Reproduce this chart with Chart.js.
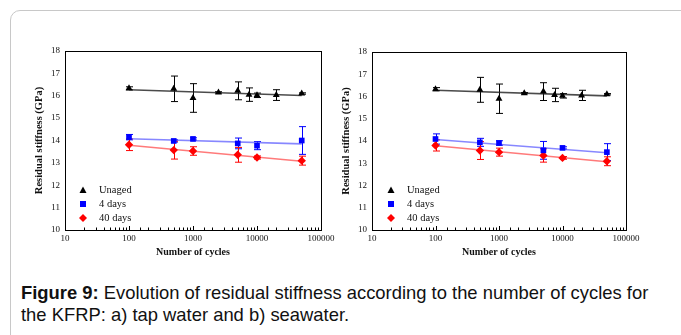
<!DOCTYPE html>
<html>
<head>
<meta charset="utf-8">
<script src="https://cdn.jsdelivr.net/npm/chart.js@4/dist/chart.umd.min.js"></script>
<style>
html, body { margin: 0; padding: 0; background: #fff; width: 681px; height: 335px; overflow: hidden; }
#frame { position: absolute; left: 10px; top: 10px; width: 700px; height: 400px; border: 1px solid #c8c8c8; border-radius: 10px; }
canvas { position: absolute; }
#c1 { left: 20px; top: 40px; }
#c2 { left: 330px; top: 40px; }
#caption { position: absolute; left: 21px; top: 282px; font-family: "Liberation Sans", Arial, sans-serif; font-size: 18.4px; line-height: 22px; color: #111; white-space: nowrap; }
</style>
</head>
<body>
<div id="frame"></div>
<canvas id="c1" width="320" height="225"></canvas>
<canvas id="c2" width="320" height="225"></canvas>
<div id="caption"><b>Figure 9:</b> Evolution of residual stiffness according to the number of cycles for<br>the KFRP: a) tap water and b) seawater.</div>
<script>
const seriesNames = ['Unaged', '4 days', '40 days'];
const unagedCycles = [100, 500, 1000, 2500, 5000, 7500, 10000, 20000, 50000];
const agedCycles = [100, 500, 1000, 5000, 10000, 50000];
const trendCycles = [100, 50000];

// a) tap water
const tapUnaged = [16.33, 16.31, 15.9, 16.15, 16.22, 16.05, 16.02, 16.03, 16.1];
const tapUnagedErr = [0.07, 0.57, 0.64, 0.03, 0.4, 0.3, 0.1, 0.24, 0.03];
const tap4Days = [14.15, 13.98, 14.07, 13.87, 13.77, 14.0];
const tap4DaysErr = [0.12, 0.05, 0.05, 0.24, 0.18, 0.62];
const tap40Days = [13.81, 13.57, 13.53, 13.36, 13.24, 13.1];
const tap40DaysErr = [0.26, 0.4, 0.19, 0.33, 0.07, 0.2];
const tapTrendUnaged = [16.27, 16.01];
const tapTrend4Days = [14.08, 13.85];
const tapTrend40Days = [13.79, 13.07];

// b) seawater
const seaUnaged = [16.33, 16.3, 15.9, 16.15, 16.22, 16.07, 16.03, 16.05, 16.1];
const seaUnagedErr = [0.07, 0.56, 0.66, 0.03, 0.4, 0.3, 0.1, 0.23, 0.03];
const sea4Days = [14.09, 13.94, 13.91, 13.58, 13.69, 13.5];
const sea4DaysErr = [0.23, 0.18, 0.1, 0.4, 0.05, 0.38];
const sea40Days = [13.8, 13.57, 13.5, 13.35, 13.24, 13.09];
const sea40DaysErr = [0.25, 0.4, 0.18, 0.3, 0.06, 0.2];
const seaTrendUnaged = [16.28, 16.03];
const seaTrend4Days = [14.07, 13.47];
const seaTrend40Days = [13.79, 13.07];

const colors = ['#000000', '#0000ff', '#ff0000'];
const trendColors = ['rgba(30,30,30,0.8)', 'rgba(70,70,255,0.65)', 'rgba(255,50,50,0.65)'];
const shapes = ['triangle', 'rect', 'rectRot'];
const serif = '"Liberation Serif", "Times New Roman", serif';

function pts(xs, ys) {
    return xs.map((x, i) => ({ x: x, y: ys[i] }));
}

// vertical error bars with caps, drawn under the markers
const errorBars = {
    id: 'errorBars',
    beforeDatasetsDraw(chart) {
        const ctx = chart.ctx;
        const x = chart.scales.x, y = chart.scales.y;
        ctx.save();
        chart.data.datasets.forEach(ds => {
            if (!ds.errors) return;
            ctx.strokeStyle = ds.borderColor;
            ctx.lineWidth = 1;
            ds.data.forEach((p, i) => {
                const px = Math.round(x.getPixelForValue(p.x)) + 0.5;
                const y1 = y.getPixelForValue(p.y + ds.errors[i]);
                const y2 = y.getPixelForValue(p.y - ds.errors[i]);
                ctx.beginPath();
                ctx.moveTo(px, y1); ctx.lineTo(px, y2);
                ctx.moveTo(px - 3.5, y1); ctx.lineTo(px + 3.5, y1);
                ctx.moveTo(px - 3.5, y2); ctx.lineTo(px + 3.5, y2);
                ctx.stroke();
            });
        });
        ctx.restore();
    }
};

// plot frame, inward tick marks and the legend box
const frameAndLegend = {
    id: 'frameAndLegend',
    afterDraw(chart) {
        const ctx = chart.ctx;
        const a = chart.chartArea;
        const xs = chart.scales.x;
        ctx.save();
        ctx.strokeStyle = '#000';
        ctx.lineWidth = 1;
        ctx.strokeRect(Math.round(a.left) + 0.5, Math.round(a.top) + 0.5,
            Math.round(a.right - a.left), Math.round(a.bottom - a.top));
        ctx.beginPath();
        xs.ticks.forEach(t => {
            const px = Math.round(xs.getPixelForValue(t.value)) + 0.5;
            const major = Number.isInteger(Math.log10(t.value));
            ctx.moveTo(px, a.bottom);
            ctx.lineTo(px, a.bottom - (major ? 4 : 2.5));
        });
        ctx.stroke();

        const lx = a.left + chart.options.legendOffset;
        ctx.font = '10.5px ' + serif;
        ctx.textBaseline = 'middle';
        seriesNames.forEach((name, i) => {
            const ly = a.bottom - 40 + i * 14;
            ctx.fillStyle = colors[i];
            ctx.beginPath();
            if (i === 0) {
                ctx.moveTo(lx, ly - 3.5); ctx.lineTo(lx + 3.5, ly + 3); ctx.lineTo(lx - 3.5, ly + 3);
            } else if (i === 1) {
                ctx.rect(lx - 3, ly - 3, 6, 6);
            } else {
                ctx.moveTo(lx, ly - 4); ctx.lineTo(lx + 4, ly); ctx.lineTo(lx, ly + 4); ctx.lineTo(lx - 4, ly);
            }
            ctx.closePath();
            ctx.fill();
            ctx.fillStyle = '#111';
            ctx.fillText(name, lx + 16, ly);
        });
        ctx.restore();
    }
};

function makeChart(id, series, errors, trends, geo) {
    const datasets = [];
    trends.forEach((t, i) => {
        datasets.push({
            data: pts(trendCycles, t),
            showLine: true,
            borderColor: trendColors[i],
            borderWidth: 1.6,
            pointRadius: 0,
            order: 2
        });
    });
    series.forEach((s, i) => {
        datasets.push({
            label: seriesNames[i],
            data: pts(i === 0 ? unagedCycles : agedCycles, s),
            errors: errors[i],
            backgroundColor: colors[i],
            borderColor: colors[i],
            pointStyle: shapes[i],
            pointRadius: i === 2 ? 4.2 : 4,
            pointBorderWidth: 0,
            showLine: false,
            order: 1
        });
    });

    return new Chart(document.getElementById(id), {
        type: 'scatter',
        data: { datasets: datasets },
        options: {
            responsive: false,
            animation: false,
            devicePixelRatio: 1,
            legendOffset: geo.legendOffset,
            layout: { padding: { top: geo.top, right: geo.right, left: 0, bottom: 0 } },
            plugins: { legend: { display: false }, tooltip: { enabled: false } },
            scales: {
                x: {
                    type: 'logarithmic',
                    min: 10,
                    max: 100000,
                    afterFit: s => { s.height = 35; },
                    grid: { display: false, drawTicks: false },
                    border: { display: false },
                    ticks: {
                        autoSkip: false,
                        maxRotation: 0,
                        padding: 3,
                        color: '#111',
                        font: { family: serif, size: 9 },
                        callback: v => Number.isInteger(Math.log10(v)) ? String(v) : ''
                    },
                    title: {
                        display: true,
                        text: 'Number of cycles',
                        color: '#111',
                        padding: { top: 0, bottom: 7 },
                        font: { family: serif, size: 10, weight: 'bold' }
                    }
                },
                y: {
                    min: 10,
                    max: 18,
                    afterFit: s => { s.width = geo.yWidth; },
                    grid: { display: false, drawTicks: false },
                    border: { display: false },
                    ticks: {
                        stepSize: 1,
                        padding: 5,
                        color: '#111',
                        font: { family: serif, size: 9 }
                    },
                    title: {
                        display: true,
                        text: 'Residual stiffness (GPa)',
                        color: '#111',
                        padding: { top: geo.titlePad, bottom: 0 },
                        font: { family: serif, size: 10.5, weight: 'bold' }
                    }
                }
            }
        },
        plugins: [errorBars, frameAndLegend]
    });
}

makeChart('c1',
    [tapUnaged, tap4Days, tap40Days],
    [tapUnagedErr, tap4DaysErr, tap40DaysErr],
    [tapTrendUnaged, tapTrend4Days, tapTrend40Days],
    { yWidth: 45, top: 11, right: 19, titlePad: 13, legendOffset: 18 });

makeChart('c2',
    [seaUnaged, sea4Days, sea40Days],
    [seaUnagedErr, sea4DaysErr, sea40DaysErr],
    [seaTrendUnaged, seaTrend4Days, seaTrend40Days],
    { yWidth: 42, top: 12, right: 24, titlePad: 10, legendOffset: 19 });
</script>
</body>
</html>
